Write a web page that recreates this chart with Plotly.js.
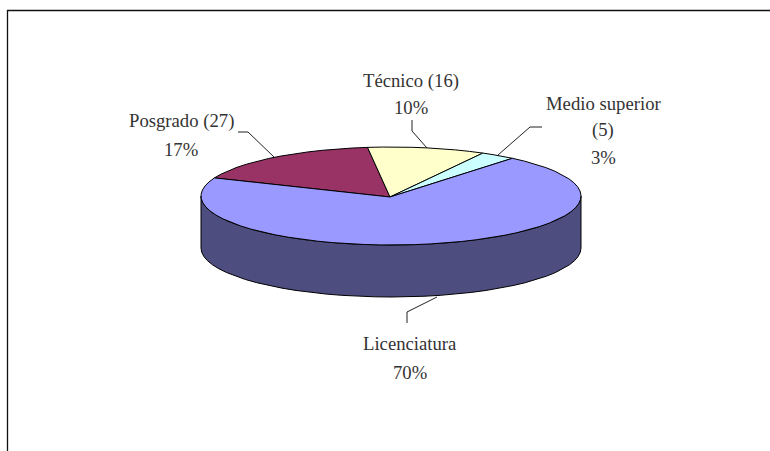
<!DOCTYPE html>
<html>
<head>
<meta charset="utf-8">
<script src="https://cdn.plot.ly/plotly-3.0.1.min.js"></script>
<style>html,body{margin:0;padding:0;background:#fff}</style>
</head>
<body>
<div id="chart" style="width:770px;height:451px"></div>
<script>
// Values
const categories = ["Posgrado", "Técnico", "Medio superior", "Licenciatura"];
const counts = [27, 16, 5, null];
const percents = [17, 10, 3, 70];
const sliceColors = ["#993366", "#ffffcc", "#ccffff", "#9999ff"];
const wallColor = "#4d4d80";

// Label lines for each category
const labelLines = [
  ["Posgrado (27)", "17%"],
  ["Técnico (16)", "10%"],
  ["Medio superior", "(5)", "3%"],
  ["Licenciatura", "70%"]
];
const labelX = [181, 411, 603, 410];
const labelY = [121, 81, 103, 343];
const labelStep = [28, 26, 27, 29];

// Geometry of the disc (axes use the page's pixel grid)
const cx = 391, cy = 196, rx = 190, ry = 49, depth = 52;
const startDeg = -68.3;

function ell(deg, dy) {
  const t = deg * Math.PI / 180;
  return [cx + rx * Math.sin(t), cy - ry * Math.cos(t) + (dy || 0)];
}
function arc(a, b, dy) {
  const pts = [], n = Math.max(2, Math.ceil(Math.abs(b - a) / 5));
  for (let i = 0; i <= n; i++) pts.push(ell(a + (b - a) * i / n, dy));
  return pts;
}
function polyTrace(pts, color) {
  return {
    type: "scatter", mode: "lines", fill: "toself", fillcolor: color,
    x: pts.map(p => p[0]), y: pts.map(p => p[1]),
    line: {color: "#000", width: 1}, hoverinfo: "skip", showlegend: false
  };
}

const traces = [];
// Side wall of the disc
traces.push(polyTrace(arc(90, 270, 0).concat(arc(270, 90, depth)).concat([ell(90, 0)]), wallColor));
// Top slices, swept by their share of the whole
const totalPct = percents.reduce((s, v) => s + v, 0);
let a = startDeg;
percents.forEach((p, i) => {
  const s = 360 * p / totalPct;
  const pts = [[cx - 1, cy + 1]].concat(arc(a, a + s, 0)).concat([[cx - 1, cy + 1]]);
  traces.push(polyTrace(pts, sliceColors[i]));
  a += s;
});
// Leader lines from labels to slices
const leaders = [
  [[238, 132], [248, 132], [274, 157]],
  [[412, 120], [412, 131], [427, 148]],
  [[542, 127], [530, 127], [498, 155]],
  [[407, 323], [407, 312], [437, 297]]
];
leaders.forEach(l => traces.push({
  type: "scatter", mode: "lines",
  x: l.map(p => p[0]), y: l.map(p => p[1]),
  line: {color: "#222", width: 1}, hoverinfo: "skip", showlegend: false
}));

const annotations = [];
labelLines.forEach((lines, i) => lines.forEach((txt, j) => annotations.push({
  x: labelX[i], y: labelY[i] + j * labelStep[i], xref: "x", yref: "y",
  text: txt, showarrow: false, xanchor: "center", yanchor: "middle",
  font: {family: "'Liberation Serif', serif", size: 18.7, color: "#333"}
})));

const layout = {
  width: 770, height: 451,
  margin: {l: 0, r: 0, t: 0, b: 0},
  paper_bgcolor: "#fff", plot_bgcolor: "#fff",
  xaxis: {range: [0, 770], visible: false, fixedrange: true},
  yaxis: {range: [451, 0], visible: false, fixedrange: true},
  showlegend: false,
  annotations: annotations,
  shapes: [
    {type: "line", xref: "x", yref: "y", x0: 7, x1: 770, y0: 10.5, y1: 10.5, line: {color: "#111", width: 1.3}},
    {type: "line", xref: "x", yref: "y", x0: 7.5, x1: 7.5, y0: 10, y1: 451, line: {color: "#111", width: 1.3}}
  ]
};
Plotly.newPlot("chart", traces, layout, {displayModeBar: false, staticPlot: true});
</script>
</body>
</html>
